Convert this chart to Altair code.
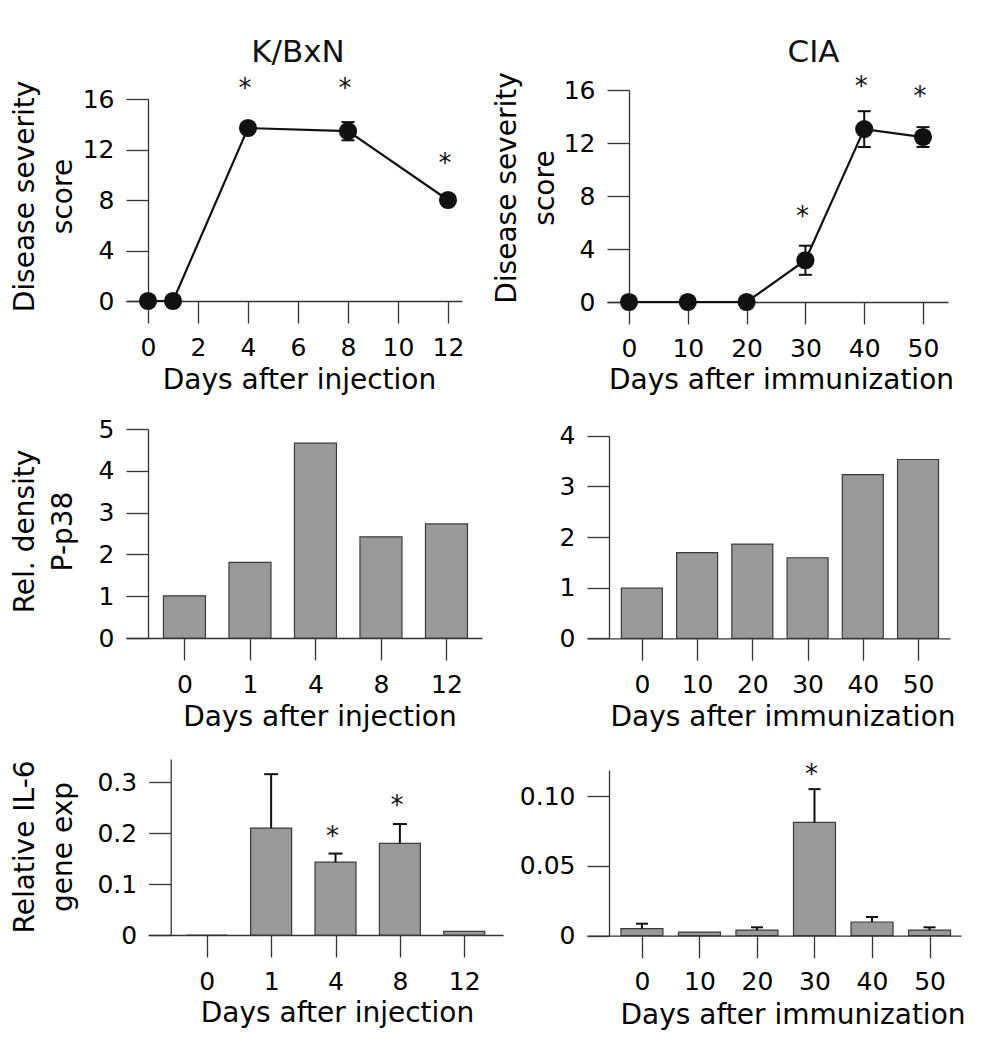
import json
import altair as alt
import pandas as pd

W, H = 969, 1034
FONT = "DejaVu Sans"
INK = "#111111"
AXC = "#333333"

panel_titles = ["K/BxN", "CIA"]

# Row 1: disease severity
kbxn_days = [0, 1, 4, 8, 12]
kbxn_score = [0.0, 0.0, 13.7, 13.45, 8.0]
kbxn_score_err = [0.0, 0.0, 0.3, 0.72, 0.2]
kbxn_star_days = [4, 8, 12]
kbxn_star_y = [17.37, 17.37, 11.43]

cia_days = [0, 10, 20, 30, 40, 50]
cia_score = [0.0, 0.0, 0.0, 3.15, 13.05, 12.45]
cia_score_err = [0.0, 0.0, 0.0, 1.1, 1.35, 0.75]
cia_star_days = [30, 40, 50]
cia_star_y = [6.94, 16.75, 16.0]

# Row 2: P-p38 relative density
kbxn_cats = ["0", "1", "4", "8", "12"]
cia_cats = ["0", "10", "20", "30", "40", "50"]
kbxn_p38 = [1.01, 1.81, 4.66, 2.42, 2.73]
cia_p38 = [0.99, 1.69, 1.86, 1.59, 3.23, 3.53]

# Row 3: IL-6 expression (upper error bar ends)
kbxn_il6 = [0.0, 0.21, 0.143, 0.180, 0.007]
kbxn_il6_err = [None, 0.316, 0.160, 0.218, None]
kbxn_il6_star_idx = [2, 3]
kbxn_il6_star_y = [0.206, 0.267]

cia_il6 = [0.005, 0.0026, 0.004, 0.0812, 0.0098, 0.004]
cia_il6_err = [0.0086, None, 0.006, 0.105, 0.0134, 0.006]
cia_il6_star_idx = [3]
cia_il6_star_y = [0.120]


def scale(domain, rng):
    return alt.Scale(domain=domain, range=rng, nice=False, zero=False)


COMMON_AX = dict(
    grid=False, domainColor=AXC, domainWidth=1.3, tickColor=AXC, tickWidth=1.3,
    tickSize=22, labelFont=FONT, labelFontSize=25, labelColor="black",
    titleFont=FONT, titleFontSize=28, titleFontWeight="normal", titleColor="black",
    labelFlush=False, labelOverlap=False, labelBound=False,
)


def x_axis(values, axis_y, title, tx, ty, label_expr=None):
    kw = dict(COMMON_AX)
    kw.update(orient="bottom", values=values, offset=axis_y - H, labelPadding=12,
              title=title, titleX=tx, titleY=ty, titleBaseline="alphabetic",
              titleAlign="center", titleAnchor="middle")
    if label_expr:
        kw["labelExpr"] = label_expr
    return alt.Axis(**kw)


def y_axis(values, axis_x, title, tx, ty, fmt=None, label_expr=None):
    kw = dict(COMMON_AX)
    kw.update(orient="left", values=values, offset=-axis_x, labelPadding=12)
    if title:
        kw.update(title=title, titleX=tx, titleY=ty, titleAngle=-90,
                  titleBaseline="middle", titleAlign="center", titleLineHeight=38)
    else:
        kw["title"] = None
    if fmt:
        kw["format"] = fmt
    if label_expr:
        kw["labelExpr"] = label_expr
    return alt.Axis(**kw)


def line_panel(days, score, err, sdays, sy, xs, ys, xa, ya):
    df = pd.DataFrame({"day": days, "score": score,
                       "lo": [s - e for s, e in zip(score, err)],
                       "hi": [s + e for s, e in zip(score, err)]})
    sdf = pd.DataFrame({"day": sdays, "sy": sy})
    X = lambda f: alt.X(f"{f}:Q", scale=xs, axis=xa)
    Y = lambda f: alt.Y(f"{f}:Q", scale=ys, axis=ya)
    base = alt.Chart(df)
    line = base.mark_line(color=INK, strokeWidth=2.2).encode(x=X("day"), y=Y("score"))
    rule = base.mark_rule(color=INK, strokeWidth=2).encode(x=X("day"), y=Y("lo"), y2="hi:Q")
    cap_hi = base.mark_tick(orient="horizontal", size=13, thickness=2, color=INK, opacity=1).encode(x=X("day"), y=Y("hi"))
    cap_lo = base.mark_tick(orient="horizontal", size=13, thickness=2, color=INK, opacity=1).encode(x=X("day"), y=Y("lo"))
    pts = base.mark_circle(size=330, color=INK, opacity=1).encode(x=X("day"), y=Y("score"))
    stars = alt.Chart(sdf).mark_text(text="*", font=FONT, fontSize=26, color=INK, dx=-3, dy=15,
                                     baseline="alphabetic").encode(x=X("day"), y=Y("sy"))
    return alt.layer(line, rule, cap_hi, cap_lo, pts, stars)


def bar_panel(vals, errs, star_idx, star_y, xs, ys, xa, ya, bar_size, cap=14):
    idx = list(range(len(vals)))
    df = pd.DataFrame({"i": idx, "v": vals})
    X = lambda f: alt.X(f"{f}:Q", scale=xs, axis=xa)
    Y = lambda f: alt.Y(f"{f}:Q", scale=ys, axis=ya)
    layers = [alt.Chart(df).mark_bar(orient="vertical", size=bar_size, color="#999999",
                                     stroke="#3a3a3a", strokeWidth=1.2).encode(x=X("i"), y=Y("v"))]
    if errs is not None:
        edf = pd.DataFrame([{"i": i, "v": v, "e": e} for i, v, e in zip(idx, vals, errs) if e is not None])
        eb = alt.Chart(edf)
        layers.append(eb.mark_rule(color=INK, strokeWidth=2).encode(x=X("i"), y=Y("v"), y2="e:Q"))
        layers.append(eb.mark_tick(orient="horizontal", size=cap, thickness=2, color=INK, opacity=1)
                      .encode(x=X("i"), y=Y("e")))
    if star_idx:
        sdf = pd.DataFrame({"i": star_idx, "sy": star_y})
        layers.append(alt.Chart(sdf).mark_text(text="*", font=FONT, fontSize=26, color=INK, dx=-3, dy=15,
                                               baseline="alphabetic").encode(x=X("i"), y=Y("sy")))
    return alt.layer(*layers)


def cat_expr(cats):
    return json.dumps(cats) + "[datum.value]"


# --- Row 1
p1 = line_panel(
    kbxn_days, kbxn_score, kbxn_score_err, kbxn_star_days, kbxn_star_y,
    scale([-0.88, 12.56], [118, 454]), scale([0, 16], [293, 91]),
    x_axis([0, 2, 4, 6, 8, 10, 12], 293, "Days after injection", 291, 87),
    y_axis([0, 4, 8, 12, 16], 140, ["Disease severity", "score"], -123, 188),
)
p2 = line_panel(
    cia_days, cia_score, cia_score_err, cia_star_days, cia_star_y,
    scale([-3.74, 54.25], [599, 940]), scale([0, 16], [294, 82]),
    x_axis([0, 10, 20, 30, 40, 50], 294, "Days after immunization", 773, 86),
    y_axis([0, 4, 8, 12, 16], 621, ["Disease severity", "score"], -122, 179.5),
)

# --- Row 2
p3 = bar_panel(
    kbxn_p38, None, None, None,
    scale([-0.816, 4.466], [118, 474]), scale([0, 5], [630, 421]),
    x_axis(list(range(len(kbxn_cats))), 630, "Days after injection", 311.5, 87, cat_expr(kbxn_cats)),
    y_axis([0, 1, 2, 3, 4, 5], 140, ["Rel. density", "P-p38"], -123, 523),
    42,
)
p4 = bar_panel(
    cia_p38, None, None, None,
    scale([-0.903, 5.488], [579, 942]), scale([0, 4], [630.3, 427.7]),
    x_axis(list(range(len(cia_cats))), 630.3, "Days after immunization", 774.5, 86.7, cat_expr(cia_cats)),
    y_axis([0, 1, 2, 3, 4], 601, None, 0, 0),
    41,
)

# --- Row 3
p5 = bar_panel(
    kbxn_il6, kbxn_il6_err, kbxn_il6_star_idx, kbxn_il6_star_y,
    scale([-0.835, 4.524], [140, 495]), scale([0, 0.3458], [927, 751]),
    x_axis(list(range(len(kbxn_cats))), 927, "Days after injection", 329, 86.7, cat_expr(kbxn_cats)),
    y_axis([0, 0.1, 0.2, 0.3], 162.7, ["Relative IL-6", "gene exp"], -145.7, 838.5, fmt=".1~f"),
    41,
)
p6 = bar_panel(
    cia_il6, cia_il6_err, cia_il6_star_idx, cia_il6_star_y,
    scale([-0.868, 5.46], [579, 953]), scale([0, 0.1187], [927.7, 762]),
    x_axis(list(range(len(cia_cats))), 927.7, "Days after immunization", 784.5, 87.6, cat_expr(cia_cats)),
    y_axis([0, 0.05, 0.10], 601, None, 0, 0,
           label_expr="datum.value === 0 ? '0' : format(datum.value, '.2f')"),
    42, cap=12,
)

# --- Panel titles
t1 = alt.Chart(pd.DataFrame({"t": [panel_titles[0]]})).mark_text(
    font=FONT, fontSize=31, color=INK, baseline="alphabetic", align="center"
).encode(text="t:N", x=alt.value(290), y=alt.value(53.7))
t2 = alt.Chart(pd.DataFrame({"t": [panel_titles[1]]})).mark_text(
    font=FONT, fontSize=31, color=INK, baseline="alphabetic", align="center"
).encode(text="t:N", x=alt.value(805.5), y=alt.value(53.7))

chart = (
    alt.layer(p1, p2, p3, p4, p5, p6, t1, t2)
    .resolve_scale(x="independent", y="independent")
    .properties(width=W, height=H, autosize="none", padding=0, background="white")
    .configure_view(stroke=None)
)

chart.save("out.html", embed_options={"renderer": "svg", "actions": False})
